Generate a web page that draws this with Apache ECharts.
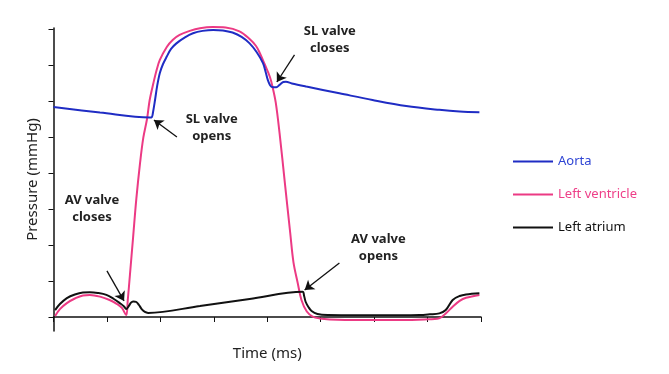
<!DOCTYPE html>
<html>
<head>
<meta charset="utf-8">
<script src="https://cdn.jsdelivr.net/npm/echarts@6/dist/echarts.min.js"></script>
<style>html,body{margin:0;padding:0;background:#fff}#c{width:669px;height:374px}</style>
</head>
<body>
<div id="c"></div>
<script>
// Time (ms), pressure (mmHg) pairs
const aorta = [
  [0,87.5],[87,85.2],[180,83.1],[184,83.3],[186,85],[190,90.4],[194,96.3],[199,101.7],[205,105.4],
  [212,108.5],[220,111.7],[230,114],[246,116.5],[261,118.2],[279,119.2],[299,119.6],[317,119.4],
  [335,118.5],[352,116.7],[367,114],[380,110.4],[392,105.8],[397,102.1],[401,98.8],[405,96.7],
  [409,95.8],[417,95.7],[423,96.7],[430,97.9],[435,98.0],[446,97.3],[473,96],[535,93.2],
  [597,90.4],[660,87.9],[722,86.3],[760,85.6],[797,85.3]
];
const leftVentricle = [
  [3,0.4],[12,3.3],[25,5.8],[40,7.7],[55,9.0],[68,9.2],[87,8.5],[105,7.1],[119,5.4],[128,3.8],[136,0.8],
  [139,7.1],[143,17.5],[149,33.3],[155,49.2],[162,64.2],[168,74.6],[175,82.5],[180,90.4],[187,97.5],
  [193,102.9],[199,107.1],[212,112.5],[223,115.4],[236,117.5],[255,119.2],[274,120.3],[298,120.8],
  [322,120.6],[348,119],[367,115.8],[379,112.9],[386,110],[395,105.4],[405,100],[410,95.8],
  [416,89.2],[423,76.7],[433,55.8],[443,35],[449,22.9],[457,14.2],[464,7.1],[474,2.3],[485,0.2],
  [498,-0.6],[517,-1.0],[573,-1.25],[648,-1.25],[694,-1.0],[722,-0.5],[735,1.7],[747,4.3],
  [760,6.7],[772,8.0],[797,9.2]
];
const leftAtrium = [
  [3,2.9],[12,5.4],[25,7.9],[40,9.4],[55,10.2],[68,10.3],[83,10],[99,9.2],[113,7.5],[124,5.8],
  [132,4.4],[136,3.3],[141,4.6],[145,6.0],[149,6.5],[155,6.25],[160,5],[165,3.3],[171,2.1],[177,1.7],
  [274,4.6],[367,7.5],[466,10.5],[469,8.75],[472,6.25],[477,4.2],[483,2.5],[494,1.25],[513,0.8],
  [573,0.7],[648,0.7],[685,0.8],[704,1.1],[722,1.5],[734,2.9],[747,7.1],[760,8.75],[772,9.4],[797,9.9]
];
const yTicks = [0,15,30,45,60,75,90,105,120];
const annotationTexts = ['SL valve\ncloses','SL valve\nopens','AV valve\ncloses','AV valve\nopens'];
const annotationAt = [[517,115.4],[296,78.75],[72,45],[608,28.75]];
const arrows = [
  [[451,109.2],[418,97.9]],
  [[231,75],[188,82.1]],
  [[100,19.2],[132,6.7]],
  [[535,22.5],[470,11.25]]
];

const BLUE = '#1f2cc4', PINK = '#ec3a84', BLACK = '#111111';
const FONT = 'Noto Sans';
const chart = echarts.init(document.getElementById('c'), null, {renderer:'canvas'});
const lineSeries = (name, data, color) => ({
  name, type:'line', data, symbol:'none', showSymbol:false, smooth:0.35, clip:false,
  lineStyle:{color, width:2}, itemStyle:{color}, animation:false, z:2
});
chart.setOption({
  animation:false,
  grid:{left:53.5, right:188, top:28, bottom:43},
  legend:{
    orient:'vertical', left:508, top:150, itemWidth:40, itemHeight:2, itemGap:20, icon:'rect',
    textStyle:{fontFamily:FONT, fontSize:13},
    data:[
      {name:'Aorta', textStyle:{color:'#2f45d4'}},
      {name:'Left ventricle', textStyle:{color:'#ee3f88'}},
      {name:'Left atrium', textStyle:{color:'#111'}}
    ]
  },
  xAxis:{
    type:'value', min:0, max:800, interval:100,
    name:'Time (ms)', nameLocation:'middle', nameGap:15,
    nameTextStyle:{fontFamily:FONT, fontSize:15, color:'#222'},
    axisLine:{lineStyle:{color:'#111', width:1.5}},
    axisTick:{show:true, length:5, lineStyle:{color:'#111', width:1}},
    axisLabel:{show:false}, splitLine:{show:false}
  },
  yAxis:{
    type:'value', min:-5.83, max:120.4,
    name:'Pressure (mmHg)', nameLocation:'middle', nameGap:13,
    nameTextStyle:{fontFamily:FONT, fontSize:15, color:'#222'},
    axisLine:{show:true, lineStyle:{color:'#111', width:1.5}},
    axisTick:{show:true, length:5, customValues:yTicks, lineStyle:{color:'#111', width:1}},
    axisLabel:{show:false}, splitLine:{show:false}
  },
  series:[
    lineSeries('Left ventricle', leftVentricle, PINK),
    lineSeries('Aorta', aorta, BLUE),
    lineSeries('Left atrium', leftAtrium, BLACK),
    {
      name:'annotations', type:'line', data:[], silent:true,
      markLine:{
        silent:true, animation:false, symbol:['none','arrow'], symbolSize:9,
        lineStyle:{color:'#111', width:1.3, type:'solid'}, label:{show:false},
        emphasis:{disabled:true},
        data: arrows.map(a => [{coord:a[0]},{coord:a[1]}])
      },
      markPoint:{
        silent:true, animation:false, symbol:'circle', symbolSize:0,
        label:{show:true, position:'inside', fontFamily:FONT, fontWeight:'bold', fontSize:13,
               color:'#222', lineHeight:17, align:'center', verticalAlign:'middle'},
        data: annotationTexts.map((t,i) => ({coord:annotationAt[i], value:t, label:{formatter:t}}))
      }
    }
  ]
});
</script>
</body>
</html>
